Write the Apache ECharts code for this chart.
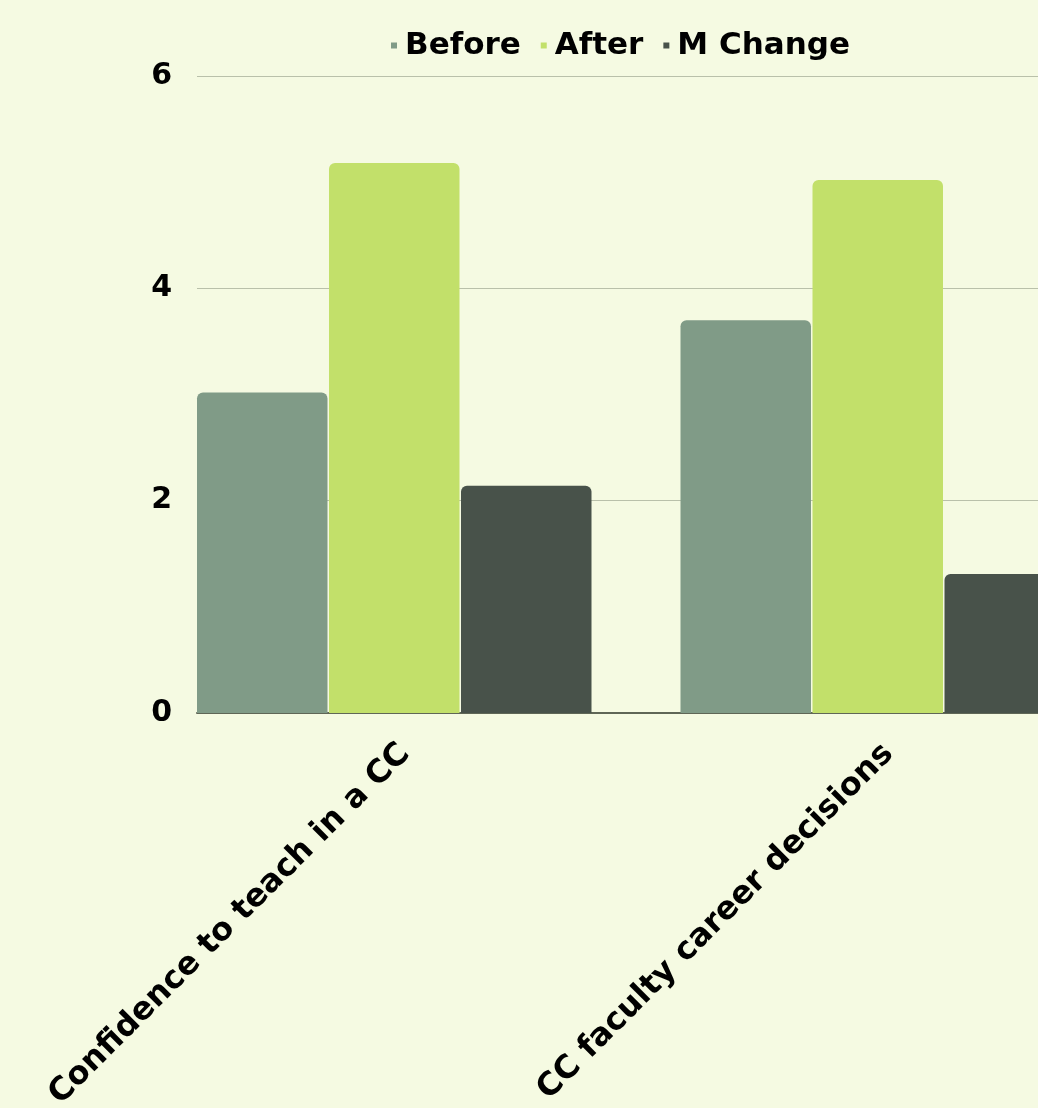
<!DOCTYPE html>
<html><head><meta charset="utf-8">
<script src="https://cdn.jsdelivr.net/npm/echarts@6/dist/echarts.min.js"></script>
<style>html,body{margin:0;padding:0;background:#f5fae2;}#c{width:1038px;height:1108px;}</style>
</head><body><div id="c"></div>
<script>
var categories = ['Confidence to teach in a CC', 'CC faculty career decisions'];
var seriesNames = ['Before', 'After', 'M Change'];
var beforeValues = [3.02, 3.70];
var afterValues = [5.18, 5.02];
var changeValues = [2.14, 1.31];
var yTicks = [0, 2, 4, 6];

var colors = ['#809b87', '#c2e06a', '#48524a'];
var font = '"DejaVu Sans", sans-serif';
var chart = echarts.init(document.getElementById('c'));
var barW = 130.5, gap = '1.15%';
function bar(name, data, color) {
  return { name: name, type: 'bar', xAxisIndex: 0, yAxisIndex: 0, data: data,
    barWidth: barW, barGap: gap, itemStyle: { color: color, borderRadius: [6, 6, 0, 0] } };
}
chart.setOption({
  backgroundColor: '#f5fae2',
  animation: false,
  legend: {
    data: seriesNames, top: 25, left: 386, itemGap: 20,
    icon: 'path://M0,0h6v6h-6z', itemWidth: 12, itemHeight: 6,
    textStyle: { fontFamily: font, fontWeight: 'bold', fontSize: 31, color: '#000' }
  },
  grid: [
    { left: 163.25, width: 967, top: 76, bottom: 395, outerBoundsMode: 'none', containLabel: false },
    { left: 197, width: 933, top: 76, bottom: 395, outerBoundsMode: 'none', containLabel: false }
  ],
  xAxis: [
    { type: 'category', gridIndex: 0, data: categories,
      axisLine: { show: false }, axisTick: { show: false },
      axisLabel: { rotate: 45, margin: 36, interval: 0, color: '#000',
        fontFamily: font, fontWeight: 'bold', fontSize: 32 } },
    { type: 'category', gridIndex: 1, data: categories,
      axisLine: { show: true, lineStyle: { color: '#5f6656', width: 2 } },
      axisTick: { show: false }, axisLabel: { show: false } }
  ],
  yAxis: [
    { type: 'value', gridIndex: 0, min: yTicks[0], max: yTicks[yTicks.length - 1], interval: 2,
      axisLabel: { show: false }, splitLine: { show: false }, axisLine: { show: false } },
    { type: 'value', gridIndex: 1, min: yTicks[0], max: yTicks[yTicks.length - 1], interval: 2,
      axisLine: { show: false }, axisTick: { show: false },
      splitLine: { lineStyle: { color: '#b9c0aa', width: 1 } },
      axisLabel: { margin: 25, color: '#000', fontFamily: font, fontWeight: 'bold', fontSize: 30 } }
  ],
  series: [
    bar(seriesNames[0], beforeValues, colors[0]),
    bar(seriesNames[1], afterValues, colors[1]),
    bar(seriesNames[2], changeValues, colors[2]),
    { name: 'spacer', type: 'bar', xAxisIndex: 0, yAxisIndex: 0, data: [null, null],
      barWidth: 20, barGap: gap, silent: true }
  ]
});
</script></body></html>
